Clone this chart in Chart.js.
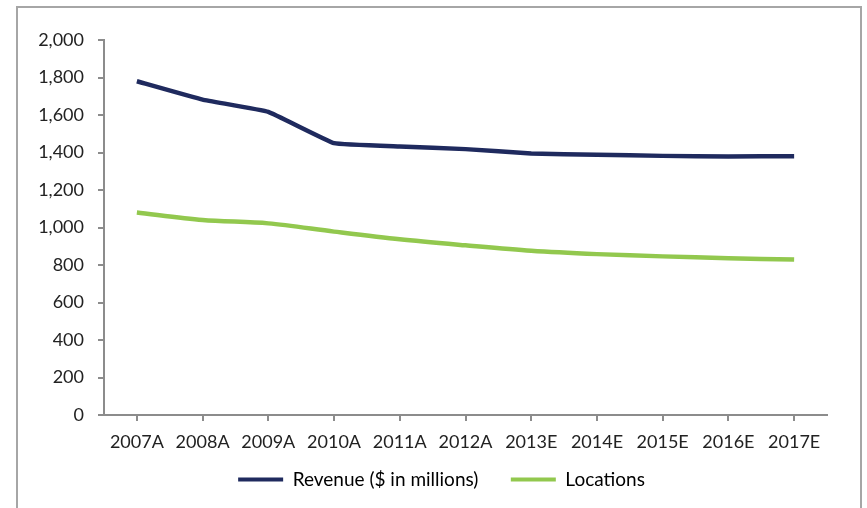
<!DOCTYPE html>
<html>
<head>
<meta charset="utf-8">
<script src="https://cdn.jsdelivr.net/npm/chart.js@4"></script>
<style>
  html, body { margin: 0; padding: 0; background: #fff; }
  #frame {
    position: absolute; left: 16px; top: 6px; width: 846px; height: 520px;
    border: 2px solid #a6a6a6; box-sizing: border-box;
  }
  #wrap { position: absolute; left: 0; top: 0; width: 867px; height: 508px; }
</style>
</head>
<body>
<div id="frame"></div>
<div id="wrap"><canvas id="lineChart" width="867" height="508"></canvas></div>
<script>
// years on the x axis (A = actual, E = estimate)
const years = ['2007A', '2008A', '2009A', '2010A', '2011A', '2012A', '2013E', '2014E', '2015E', '2016E', '2017E'];
const revenue = [1780, 1682, 1617, 1450, 1432, 1418, 1395, 1388, 1382, 1379, 1380];
const locations = [1080, 1040, 1022, 978, 937, 905, 876, 858, 846, 836, 829];
const yTicks = [0, 200, 400, 600, 800, 1000, 1200, 1400, 1600, 1800, 2000];

const axisGrey = '#8c8c8c';
const textDark = '#222222';
const tickFont = { family: 'Lato, "Open Sans", sans-serif', size: 18 };
const legendFont = { family: 'Lato, "Open Sans", sans-serif', size: 19 };

// centre the legend under the framed box instead of the canvas minus padding
const legendShift = {
  id: 'legendShift',
  afterLayout(chart) {
    const lg = chart.legend;
    if (!lg) return;
    lg.left += 28;
    lg.right += 28;
  }
};

const ctx = document.querySelector('#lineChart').getContext('2d');
const lineChart = new Chart(ctx, {
  type: 'line',
  data: {
    labels: years,
    datasets: [{
      label: 'Revenue ($ in millions)',
      data: revenue,
      borderColor: '#1f2a5e', // navy
      backgroundColor: '#1f2a5e',
      borderWidth: 4.5,
      pointRadius: 0,
      tension: 0.08
    }, {
      label: 'Locations',
      data: locations,
      borderColor: '#92c84e', // green
      backgroundColor: '#92c84e',
      borderWidth: 4.5,
      pointRadius: 0,
      tension: 0.3
    }]
  },
  options: {
    responsive: false,
    animation: false,
    layout: { padding: { top: 40, right: 40, left: 0, bottom: 9 } },
    scales: {
      x: {
        offset: true,
        grid: { drawOnChartArea: false, tickLength: 6, color: axisGrey, lineWidth: 2 },
        border: { color: axisGrey, width: 2 },
        ticks: { color: textDark, font: tickFont, padding: 10, maxRotation: 0, autoSkip: false },
        afterFit: scale => { scale.height = 42; }
      },
      y: {
        min: 0,
        max: 2000,
        afterBuildTicks: scale => { scale.ticks = yTicks.map(v => ({ value: v })); },
        grid: { drawOnChartArea: false, tickLength: 6, color: axisGrey, lineWidth: 2 },
        border: { color: axisGrey, width: 2 },
        ticks: {
          color: textDark, font: tickFont, padding: 14,
          callback: v => v.toLocaleString('en-US')
        },
        afterFit: scale => { scale.width = 104; }
      }
    },
    plugins: {
      legend: {
        position: 'bottom',
        labels: {
          color: textDark,
          font: legendFont,
          boxWidth: 45,
          boxHeight: 4,
          padding: 13,
          // trailing spaces widen the gap before the second entry
          generateLabels: chart => chart.data.datasets.map((ds, i) => ({
            text: i === 0 ? ds.label + '\u00a0\u00a0\u00a0\u00a0' : ds.label,
            fillStyle: ds.borderColor,
            strokeStyle: ds.borderColor,
            lineWidth: 0,
            datasetIndex: i
          }))
        }
      },
      tooltip: { enabled: false }
    }
  },
  plugins: [legendShift]
});
</script>
</body>
</html>
